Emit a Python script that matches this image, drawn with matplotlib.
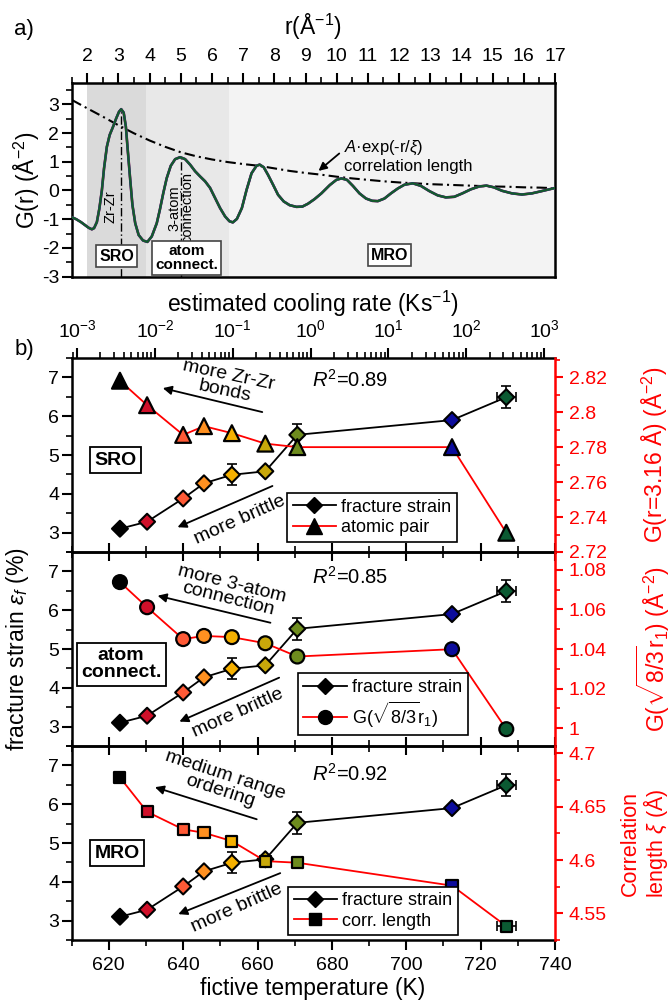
import numpy as np
import matplotlib
matplotlib.use('Agg')
import matplotlib.pyplot as plt
from matplotlib.lines import Line2D
from matplotlib.ticker import MultipleLocator, FixedLocator, LogLocator, FuncFormatter, NullFormatter

plt.rcParams['font.family'] = ['Liberation Sans', 'DejaVu Sans']
plt.rcParams['mathtext.fontset'] = 'custom'
plt.rcParams['mathtext.rm'] = 'Liberation Sans'
plt.rcParams['mathtext.it'] = 'Liberation Sans:italic'
plt.rcParams['mathtext.bf'] = 'Liberation Sans:bold'
plt.rcParams['axes.unicode_minus'] = False

# ---- panel a: pair distribution function
r_grid = [1.51, 1.65, 1.8, 1.95, 2.05, 2.15, 2.22, 2.31, 2.39, 2.47, 2.54, 2.63, 2.72, 2.83, 2.93,
          3.02, 3.09, 3.17, 3.24, 3.3, 3.38, 3.45, 3.54, 3.65, 3.79, 3.93, 4.07, 4.23, 4.33, 4.44,
          4.55, 4.68, 4.82, 4.98, 5.14, 5.3, 5.46, 5.62, 5.78, 5.94, 6.1, 6.26, 6.42, 6.56, 6.67,
          6.8, 6.96, 7.11, 7.27, 7.43, 7.53, 7.66, 7.8, 7.96, 8.12, 8.3, 8.49, 8.71, 8.9, 9.08,
          9.29, 9.51, 9.78, 9.99, 10.15, 10.33, 10.52, 10.73, 10.94, 11.14, 11.32, 11.53, 11.74, 11.96, 12.17,
          12.44, 12.7, 12.97, 13.24, 13.5, 13.77, 14.03, 14.3, 14.57, 14.8, 15.04, 15.3, 15.62, 15.94, 16.26,
          16.58, 16.97]
G_grid = [-0.93, -1.0, -1.1, -1.22, -1.3, -1.35, -1.31, -1.1, -0.63, 0.0, 0.77, 1.52, 1.93, 2.22, 2.51,
          2.74, 2.83, 2.71, 2.22, 1.41, 0.37, -0.5, -1.14, -1.55, -1.74, -1.79, -1.6, -1.14, -0.67, -0.09,
          0.43, 0.86, 1.09, 1.16, 1.09, 0.9, 0.67, 0.49, 0.32, 0.09, -0.26, -0.61, -0.9, -1.07, -1.11,
          -0.99, -0.61, 0.02, 0.6, 0.86, 0.9, 0.81, 0.54, 0.2, -0.15, -0.38, -0.51, -0.57, -0.56, -0.46,
          -0.3, -0.1, 0.19, 0.37, 0.42, 0.37, 0.16, -0.1, -0.28, -0.36, -0.37, -0.28, -0.1, 0.07, 0.2,
          0.25, 0.16, -0.02, -0.17, -0.24, -0.22, -0.1, 0.04, 0.14, 0.17, 0.11, -0.01, -0.1, -0.14, -0.1,
          -0.02, 0.08]

env_r = [1.51, 2.0, 2.5, 3.0, 3.5, 4.0, 4.5, 5.0, 5.5, 6.0, 6.5, 7.0, 7.5, 8.0, 8.5, 9.0, 9.5,
         10.0, 10.5, 11.0, 11.5, 12.0, 12.5, 13.0, 13.5, 14.0, 14.5, 15.0, 15.5, 16.0, 16.5, 17.0]
env_G = [3.15, 2.86, 2.57, 2.27, 1.99, 1.74, 1.52, 1.33, 1.19, 1.08, 0.99, 0.92, 0.86, 0.77, 0.68,
         0.61, 0.55, 0.48, 0.42, 0.37, 0.32, 0.28, 0.25, 0.22, 0.2, 0.18, 0.16, 0.14, 0.13, 0.11, 0.1, 0.08]

peak_r = [3.09, 5.0]
peak_G = [2.83, 1.16]

region_lo = [2.0, 3.88, 6.54]
region_hi = [3.88, 6.54, 17.0]
region_colors = ['#dadada', '#e8e8e8', '#f3f3f3']

# ---- panel b
Tf = [623.0, 630.3, 640.0, 645.6, 653.1, 662.1, 670.7, 712.3, 726.9]
Tf_err = [0, 0, 0, 0, 0, 0, 0, 0, 2.5]
strain = [3.10, 3.28, 3.88, 4.27, 4.49, 4.58, 5.52, 5.90, 6.49]
strain_err = [0, 0, 0, 0.06, 0.27, 0, 0.29, 0.08, 0.28]
pair_G = [2.818, 2.804, 2.787, 2.792, 2.788, 2.782, 2.780, 2.780, 2.731]
conn_G = [1.0738, 1.0611, 1.0450, 1.0466, 1.0460, 1.0429, 1.0362, 1.0399, 0.9995]
corr_len = [4.6775, 4.6453, 4.6288, 4.6256, 4.6178, 4.5990, 4.5975, 4.5760, 4.5380]
corr_xerr = [0, 0, 0, 0, 0, 0, 0, 0, 2.5]
pt_colors = ['#000000', '#d0102a', '#ff5a36', '#ff9020', '#f5b000', '#c8a80a', '#6e8c1e', '#0c0c9c', '#0b5a32']
rate_ticks = [1e-3, 1e-2, 1e-1, 1e0, 1e1, 1e2, 1e3]

W, H = 671, 1002


def box(l, t, r, b):
    return [l / W, 1 - b / H, (r - l) / W, (b - t) / H]


fig = plt.figure(figsize=(6.71, 10.02), dpi=100)

# ================= panel a
axA = fig.add_axes(box(71.6, 83.3, 555, 276.7))
for lo, hi, c in zip(region_lo, region_hi, region_colors):
    axA.axvspan(lo, hi, color=c, lw=0, zorder=0)
axA.vlines(peak_r, -3, peak_G, colors='black', linestyles=(0, (6, 2, 1, 2)), lw=1.0, zorder=1)
axA.plot(env_r, env_G, color='black', ls=(0, (5, 2, 1, 2)), lw=1.5, zorder=2)
axA.plot(r_grid, G_grid, color='#d03030', lw=1.9, zorder=3)
axA.plot(r_grid, G_grid, color='#2030b0', lw=1.8, zorder=3)
axA.plot(r_grid, G_grid, color='#155a2b', lw=1.6, zorder=4)

axA.text(2.74, -0.56, 'Zr-Zr', rotation=90, ha='center', va='center', fontsize=10.5)
axA.text(5.0, -0.6, '3-atom\nconnection', rotation=90, ha='center', va='center', fontsize=10.5,
         linespacing=0.95)
bprops = dict(boxstyle='square,pad=0.2', fc='white', ec='#444444', lw=1.2)
axA.text(2.95, -2.28, 'SRO', ha='center', va='center', fontsize=11.5, fontweight='bold', bbox=bprops)
axA.text(5.19, -2.36, 'atom\nconnect.', ha='center', va='center', fontsize=11, fontweight='bold',
         bbox=bprops, linespacing=1.0)
axA.text(11.69, -2.25, 'MRO', ha='center', va='center', fontsize=11.5, fontweight='bold', bbox=bprops)
axA.text(10.25, 1.18, '$A$·exp(-r/$\\xi$)\ncorrelation length', ha='left', va='center', fontsize=12,
         linespacing=1.2)
axA.annotate('', xy=(9.35, 0.62), xytext=(10.15, 1.35),
             arrowprops=dict(arrowstyle='-|>', color='black', lw=1.3, mutation_scale=12))

axA.set_xlim(1.5, 17)
axA.set_ylim(-3, 3.73)
axA.xaxis.tick_top()
axA.xaxis.set_major_locator(MultipleLocator(1))
axA.xaxis.set_minor_locator(MultipleLocator(0.5))
axA.yaxis.set_major_locator(MultipleLocator(1))
axA.yaxis.set_minor_locator(MultipleLocator(0.5))
axA.tick_params(which='both', direction='out', top=True, bottom=False, left=True, right=False,
                labelsize=14)
axA.tick_params(which='major', length=7, width=1.5)
axA.tick_params(which='minor', length=4, width=1.2)
axA.tick_params(axis='x', pad=6)
axA.tick_params(axis='y', pad=2)
for s in axA.spines.values():
    s.set_linewidth(1.8)

fig.text(313 / W, 1 - 27 / H, 'r(Å$^{-1}$)', ha='center', va='center', fontsize=16.5)
fig.text(27 / W, 1 - 180 / H, 'G(r) (Å$^{-2}$)', ha='center', va='center', rotation=90, fontsize=16.5)
fig.text(24 / W, 1 - 30 / H, 'a)', ha='center', va='center', fontsize=16)

# ================= panel b
tops = [358, 552, 746, 940]
right_vals = [pair_G, conn_G, corr_len]
right_xerr = [[0] * 9, [0] * 9, corr_xerr]
markers = ['^', 'o', 's']
msizes = [130, 100, 64]
rlims = [(2.72, 2.831), (0.991, 1.089), (4.525, 4.707)]
rticks = [[2.72, 2.74, 2.76, 2.78, 2.80, 2.82], [1.0, 1.02, 1.04, 1.06, 1.08], [4.55, 4.6, 4.65, 4.7]]
rminor = [0.01, 0.01, 0.025]
legend_labels = ['atomic pair', 'G($\\sqrt{8/3}$r$_1$)', 'corr. length']
legend_pos = [(0.446, 0.053), (0.468, 0.057), (0.448, 0.026)]
r2_text = ['$R^2$=0.89', '$R^2$=0.85', '$R^2$=0.92']
r2_y = [6.93, 6.87, 6.78]
region_text = ['SRO', 'atom\nconnect.', 'MRO']
region_xy = [(621.7, 4.87), (623.3, 4.61), (622.2, 4.74)]
up_text = ['more Zr-Zr\nbonds', 'more 3-atom\nconnection', 'medium range\nordering']
up_xy = [(651.7, 6.85), (652.6, 6.48), (650.7, 6.54)]
up_rot = [-12, -14, -18]
up_arrow = [((633.8, 6.74), (662.0, 6.09)), ((632.4, 6.39), (664.2, 5.66)), ((631.7, 6.46), (660.5, 5.59))]
down_xy = [(655.3, 3.32), (654.8, 3.34), (654.5, 3.32)]
down_arrow = [((637.8, 3.11), (664.7, 4.23)), ((638.3, 3.10), (666.5, 4.29)), ((638.0, 3.14), (666.8, 4.25))]
right_labels = ['G(r=3.16 Å) (Å$^{-2}$)', 'G($\\sqrt{8/3}$r$_1$) (Å$^{-2}$)', 'Correlation\nlength $\\xi$ (Å)']
right_label_x = [655, 653, 645]
right_label_size = [16.5, 16.5, 15.5]

ax0 = None
for i in range(3):
    ax = fig.add_axes(box(71.6, tops[i], 555, tops[i + 1]), sharex=ax0)
    ax.patch.set_visible(False)
    if ax0 is None:
        ax0 = ax
        axT = ax.twiny()
        axT.set_xscale('log')
        axT.set_xlim(10 ** -3.07, 10 ** 3.14)
        axT.xaxis.set_major_locator(FixedLocator(rate_ticks))
        axT.xaxis.set_minor_locator(LogLocator(base=10, subs=np.arange(2, 10), numticks=12))
        axT.xaxis.set_minor_formatter(NullFormatter())
        axT.tick_params(which='both', direction='out', labelsize=14, pad=5)
        axT.tick_params(which='major', length=7, width=1.5)
        axT.tick_params(which='minor', length=4, width=1.2)
        for s in axT.spines.values():
            s.set_visible(False)
    rax = ax.twinx()

    # fracture strain on the left axis
    ax.plot(Tf, strain, color='black', lw=1.3, zorder=1)
    ax.errorbar(Tf, strain, yerr=strain_err, xerr=Tf_err, fmt='none', ecolor='black',
                elinewidth=1.2, capsize=3.5, capthick=1.2, zorder=2)
    ax.scatter(Tf, strain, s=66, marker='D', c=pt_colors, edgecolors='black', linewidths=1.5, zorder=3)

    # structural parameter on the right axis
    rax.plot(Tf, right_vals[i], color='red', lw=1.3, zorder=1)
    rax.errorbar(Tf, right_vals[i], xerr=right_xerr[i], fmt='none', ecolor='black',
                 elinewidth=1.2, capsize=3.5, capthick=1.2, zorder=2)
    rax.scatter(Tf, right_vals[i], s=msizes[i], marker=markers[i], c=pt_colors, edgecolors='black',
                linewidths=1.6, zorder=3)

    ax.set_xlim(610, 740)
    ax.set_ylim(2.5, 7.5)
    rax.set_ylim(*rlims[i])
    ax.xaxis.set_major_locator(MultipleLocator(20))
    ax.xaxis.set_minor_locator(MultipleLocator(10))
    ax.set_yticks([3, 4, 5, 6, 7])
    ax.yaxis.set_minor_locator(MultipleLocator(0.5))
    rax.yaxis.set_major_locator(FixedLocator(rticks[i]))
    rax.yaxis.set_minor_locator(MultipleLocator(rminor[i]))
    rax.yaxis.set_major_formatter(FuncFormatter(lambda v, p: f'{round(v, 3):g}'))

    ax.tick_params(axis='y', which='both', direction='out', left=True, right=False, labelsize=14, pad=2)
    ax.tick_params(axis='y', which='major', length=7, width=1.5)
    ax.tick_params(axis='y', which='minor', length=4, width=1.2)
    if i < 2:
        ax.tick_params(axis='x', which='both', direction='inout', bottom=True, top=False,
                       labelbottom=False)
        ax.tick_params(axis='x', which='major', length=13, width=1.5)
        ax.tick_params(axis='x', which='minor', length=8, width=1.2)
    else:
        ax.tick_params(axis='x', which='both', direction='out', bottom=True, top=False,
                       labelsize=14, pad=5)
        ax.tick_params(axis='x', which='major', length=7, width=1.5)
        ax.tick_params(axis='x', which='minor', length=4, width=1.2)

    rax.tick_params(axis='y', which='both', direction='out', colors='red', labelsize=14, pad=4)
    rax.tick_params(axis='y', which='major', length=6, width=1.5)
    rax.tick_params(axis='y', which='minor', length=3.5, width=1.2)
    for s in ax.spines.values():
        s.set_linewidth(1.8)
    ax.spines['right'].set_visible(False)
    for name, s in rax.spines.items():
        s.set_linewidth(1.8)
        if name != 'right':
            s.set_visible(False)
    rax.spines['right'].set_color('red')

    # annotations (left-axis data coordinates)
    ax.text(685, r2_y[i], r2_text[i], ha='center', va='center', fontsize=14.5)
    ax.text(*region_xy[i], region_text[i], ha='center', va='center', fontsize=14, fontweight='bold',
            linespacing=1.05, bbox=dict(boxstyle='square,pad=0.22', fc='white', ec='black', lw=1.3))
    ax.text(*up_xy[i], up_text[i], ha='center', va='center', rotation=up_rot[i], fontsize=14,
            linespacing=0.95, rotation_mode='anchor')
    ax.annotate('', xy=up_arrow[i][0], xytext=up_arrow[i][1],
                arrowprops=dict(arrowstyle='-|>', color='black', lw=1.3, mutation_scale=13))
    ax.text(*down_xy[i], 'more brittle', ha='center', va='center', rotation=24, fontsize=14,
            rotation_mode='anchor')
    ax.annotate('', xy=down_arrow[i][0], xytext=down_arrow[i][1],
                arrowprops=dict(arrowstyle='-|>', color='black', lw=1.3, mutation_scale=13))

    handles = [Line2D([], [], color='black', lw=1.3, marker='D', ms=8, mfc='black', mec='black'),
               Line2D([], [], color='red', lw=1.3, marker=markers[i], ms=np.sqrt(msizes[i]),
                      mfc='black', mec='black')]
    leg = rax.legend(handles, ['fracture strain', legend_labels[i]], loc='lower left',
                     bbox_to_anchor=legend_pos[i], borderaxespad=0, fontsize=13, frameon=True,
                     fancybox=False, edgecolor='black', framealpha=1, handlelength=2.4,
                     handletextpad=0.3, borderpad=0.3, labelspacing=0.2)
    leg.get_frame().set_linewidth(1.2)
    leg.set_zorder(10)

    cy = (tops[i] + tops[i + 1]) / 2
    fig.text(right_label_x[i] / W, 1 - cy / H, right_labels[i], rotation=90, color='red',
             ha='center', va='center', fontsize=right_label_size[i], linespacing=1.0)

fig.text(18 / W, 1 - 649 / H, 'fracture strain $\\varepsilon_f$ (%)', rotation=90,
         ha='center', va='center', fontsize=16.5)
fig.text(313 / W, 1 - 304 / H, 'estimated cooling rate (Ks$^{-1}$)', ha='center', va='center',
         fontsize=16.5)
fig.text(313 / W, 1 - 988 / H, 'fictive temperature (K)', ha='center', va='center', fontsize=16.5)
fig.text(24 / W, 1 - 350 / H, 'b)', ha='center', va='center', fontsize=16)

fig.savefig('out.png', dpi=100)
